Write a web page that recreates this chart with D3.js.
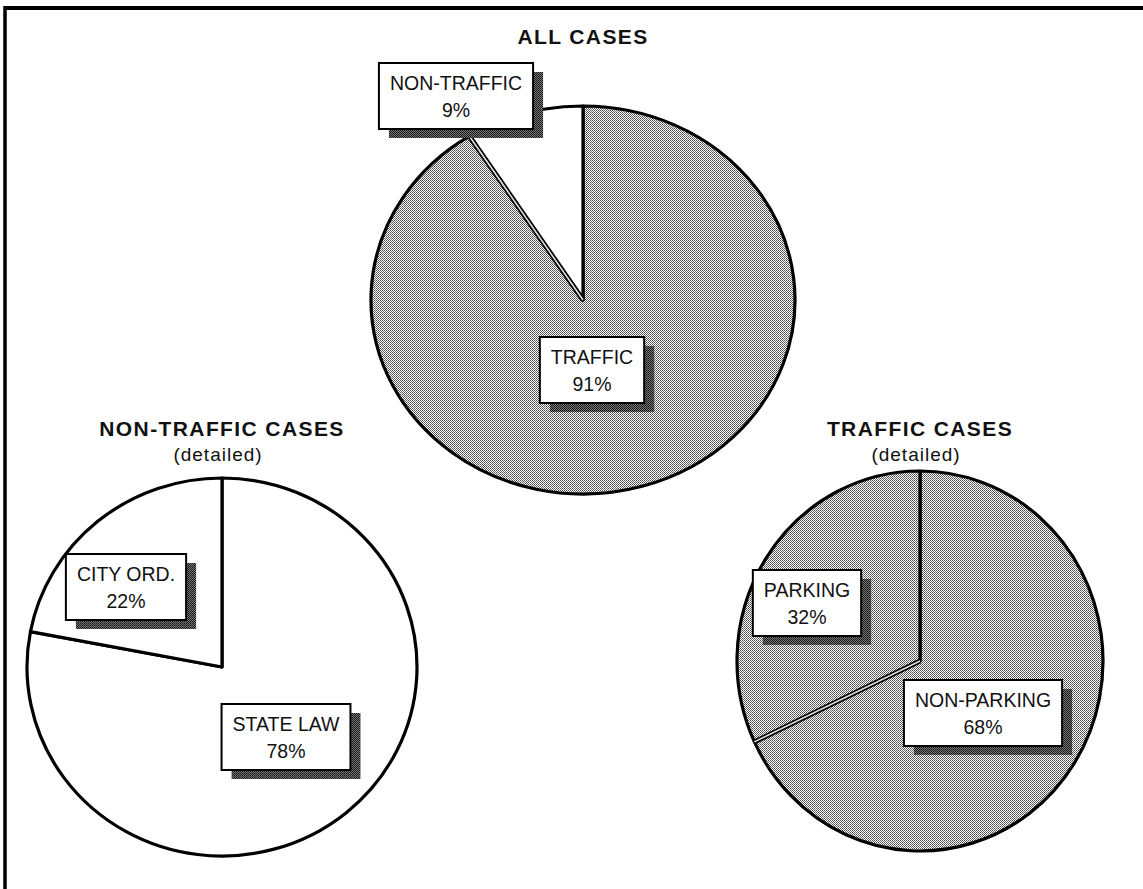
<!DOCTYPE html>
<html>
<head>
<meta charset="utf-8">
<script src="https://cdn.jsdelivr.net/npm/d3@7"></script>
<style>
  body { margin: 0; background: #fff; }
  svg { display: block; }
  text { font-family: "Liberation Sans", Arial, sans-serif; fill: #111; }
</style>
</head>
<body>
<svg id="chart"></svg>
<script>
// data
var allLabels = ["TRAFFIC", "NON-TRAFFIC"];
var allValues = [91, 9];
var nonTrafficLabels = ["STATE LAW", "CITY ORD."];
var nonTrafficValues = [78, 22];
var trafficLabels = ["NON-PARKING", "PARKING"];
var trafficValues = [68, 32];
var titles = ["ALL CASES", "NON-TRAFFIC CASES", "TRAFFIC CASES"];
var subtitles = ["", "(detailed)", "(detailed)"];

var width = 1143, height = 889;

var svg = d3.select("#chart").attr("width", width).attr("height", height);

// halftone fills like the scanned page
var defs = svg.append("defs");
var dots = defs.append("pattern").attr("id", "dots")
    .attr("patternUnits", "userSpaceOnUse").attr("width", 2).attr("height", 2);
dots.append("rect").attr("width", 2).attr("height", 2).attr("fill", "#fff");
dots.append("rect").attr("width", 1).attr("height", 1).attr("fill", "#4a4a4a");
dots.append("rect").attr("x", 1).attr("y", 1).attr("width", 1).attr("height", 1).attr("fill", "#6a6a6a");

var shade = defs.append("pattern").attr("id", "shade")
    .attr("patternUnits", "userSpaceOnUse").attr("width", 2).attr("height", 2);
shade.append("rect").attr("width", 2).attr("height", 2).attr("fill", "#777");
shade.append("rect").attr("width", 1).attr("height", 1).attr("fill", "#111");
shade.append("rect").attr("x", 1).attr("y", 1).attr("width", 1).attr("height", 1).attr("fill", "#222");

// page frame (only top and left edge show on the scan)
svg.append("line").attr("x1", 4).attr("y1", 8).attr("x2", width).attr("y2", 8)
    .attr("stroke", "#000").attr("stroke-width", 4);
svg.append("line").attr("x1", 5).attr("y1", 6).attr("x2", 5).attr("y2", height)
    .attr("stroke", "#000").attr("stroke-width", 3.5);

var pies = [
    { labels: allLabels, values: allValues, fills: ["url(#dots)", "#fff"],
      cx: 583, cy: 300, rx: 212, ry: 194, title: titles[0], sub: subtitles[0], titleY: 44,
      labelPos: [[9, 70], [-127, -204]], doubleEdge: true },
    { labels: nonTrafficLabels, values: nonTrafficValues, fills: ["#fff", "#fff"],
      cx: 222, cy: 667, rx: 195, ry: 189, title: titles[1], sub: subtitles[1], titleY: 436,
      labelPos: [[64, 70], [-96, -80]], doubleEdge: false },
    { labels: trafficLabels, values: trafficValues, fills: ["url(#dots)", "url(#dots)"],
      cx: 920, cy: 661, rx: 183, ry: 190, title: titles[2], sub: subtitles[2], titleY: 436,
      labelPos: [[63, 52], [-113, -58]], doubleEdge: true }
];

var pie = d3.pie().sort(null).startAngle(0).endAngle(2 * Math.PI);

// d3.arc only does circles; the scanned pies are slightly oval
function ellipsePoint(p, a) {
    return [p.cx + p.rx * Math.sin(a), p.cy - p.ry * Math.cos(a)];
}
function ellipseSlice(p, d) {
    var s = ellipsePoint(p, d.startAngle), e = ellipsePoint(p, d.endAngle);
    var large = (d.endAngle - d.startAngle) > Math.PI ? 1 : 0;
    return "M" + p.cx + "," + p.cy + "L" + s[0] + "," + s[1] +
        "A" + p.rx + "," + p.ry + " 0 " + large + " 1 " + e[0] + "," + e[1] + "Z";
}

pies.forEach(function (p) {
    var arcs = pie(p.values);

    svg.append("g").selectAll("path")
        .data(arcs)
        .enter().append("path")
        .attr("d", function (d) { return ellipseSlice(p, d); })
        .attr("fill", function (d, i) { return p.fills[i]; })
        .attr("stroke", "#000")
        .attr("stroke-width", 3.2)
        .attr("stroke-linejoin", "round");

    // the second boundary is drawn as a double rule on the scan
    if (p.doubleEdge) {
        var e = ellipsePoint(p, arcs[1].startAngle);
        svg.append("line").attr("x1", p.cx).attr("y1", p.cy).attr("x2", e[0]).attr("y2", e[1])
            .attr("stroke", "#000").attr("stroke-width", 5);
        svg.append("line").attr("x1", p.cx).attr("y1", p.cy).attr("x2", e[0]).attr("y2", e[1])
            .attr("stroke", "#ddd").attr("stroke-width", 1.6);
    }

    // title
    svg.append("text")
        .attr("x", p.cx).attr("y", p.titleY)
        .attr("text-anchor", "middle")
        .style("font-size", "21px").style("font-weight", "bold").style("letter-spacing", "1.4px")
        .text(p.title);
    if (p.sub) {
        svg.append("text")
            .attr("x", p.cx - 4).attr("y", p.titleY + 25)
            .attr("text-anchor", "middle")
            .style("font-size", "19px").style("letter-spacing", "1px")
            .text(p.sub);
    }

    // labels in boxes with drop shadow
    arcs.forEach(function (d, i) {
        var lx = p.cx + p.labelPos[i][0], ly = p.cy + p.labelPos[i][1];
        var lg = svg.append("g").attr("transform", "translate(" + lx + "," + ly + ")");

        var t1 = lg.append("text").attr("text-anchor", "middle").attr("y", -6)
            .style("font-size", "19.5px").text(p.labels[i]);
        lg.append("text").attr("text-anchor", "middle").attr("y", 21)
            .style("font-size", "19.5px").text(d.data + "%");

        var w = t1.node().getComputedTextLength() + 22, h = 66;

        lg.insert("rect", "text")
            .attr("x", -w / 2 + 10).attr("y", -h / 2 + 9)
            .attr("width", w).attr("height", h)
            .attr("fill", "url(#shade)");
        lg.insert("rect", "text")
            .attr("x", -w / 2).attr("y", -h / 2)
            .attr("width", w).attr("height", h)
            .attr("fill", "#fff").attr("stroke", "#000").attr("stroke-width", 2);
    });
});
</script>
</body>
</html>
